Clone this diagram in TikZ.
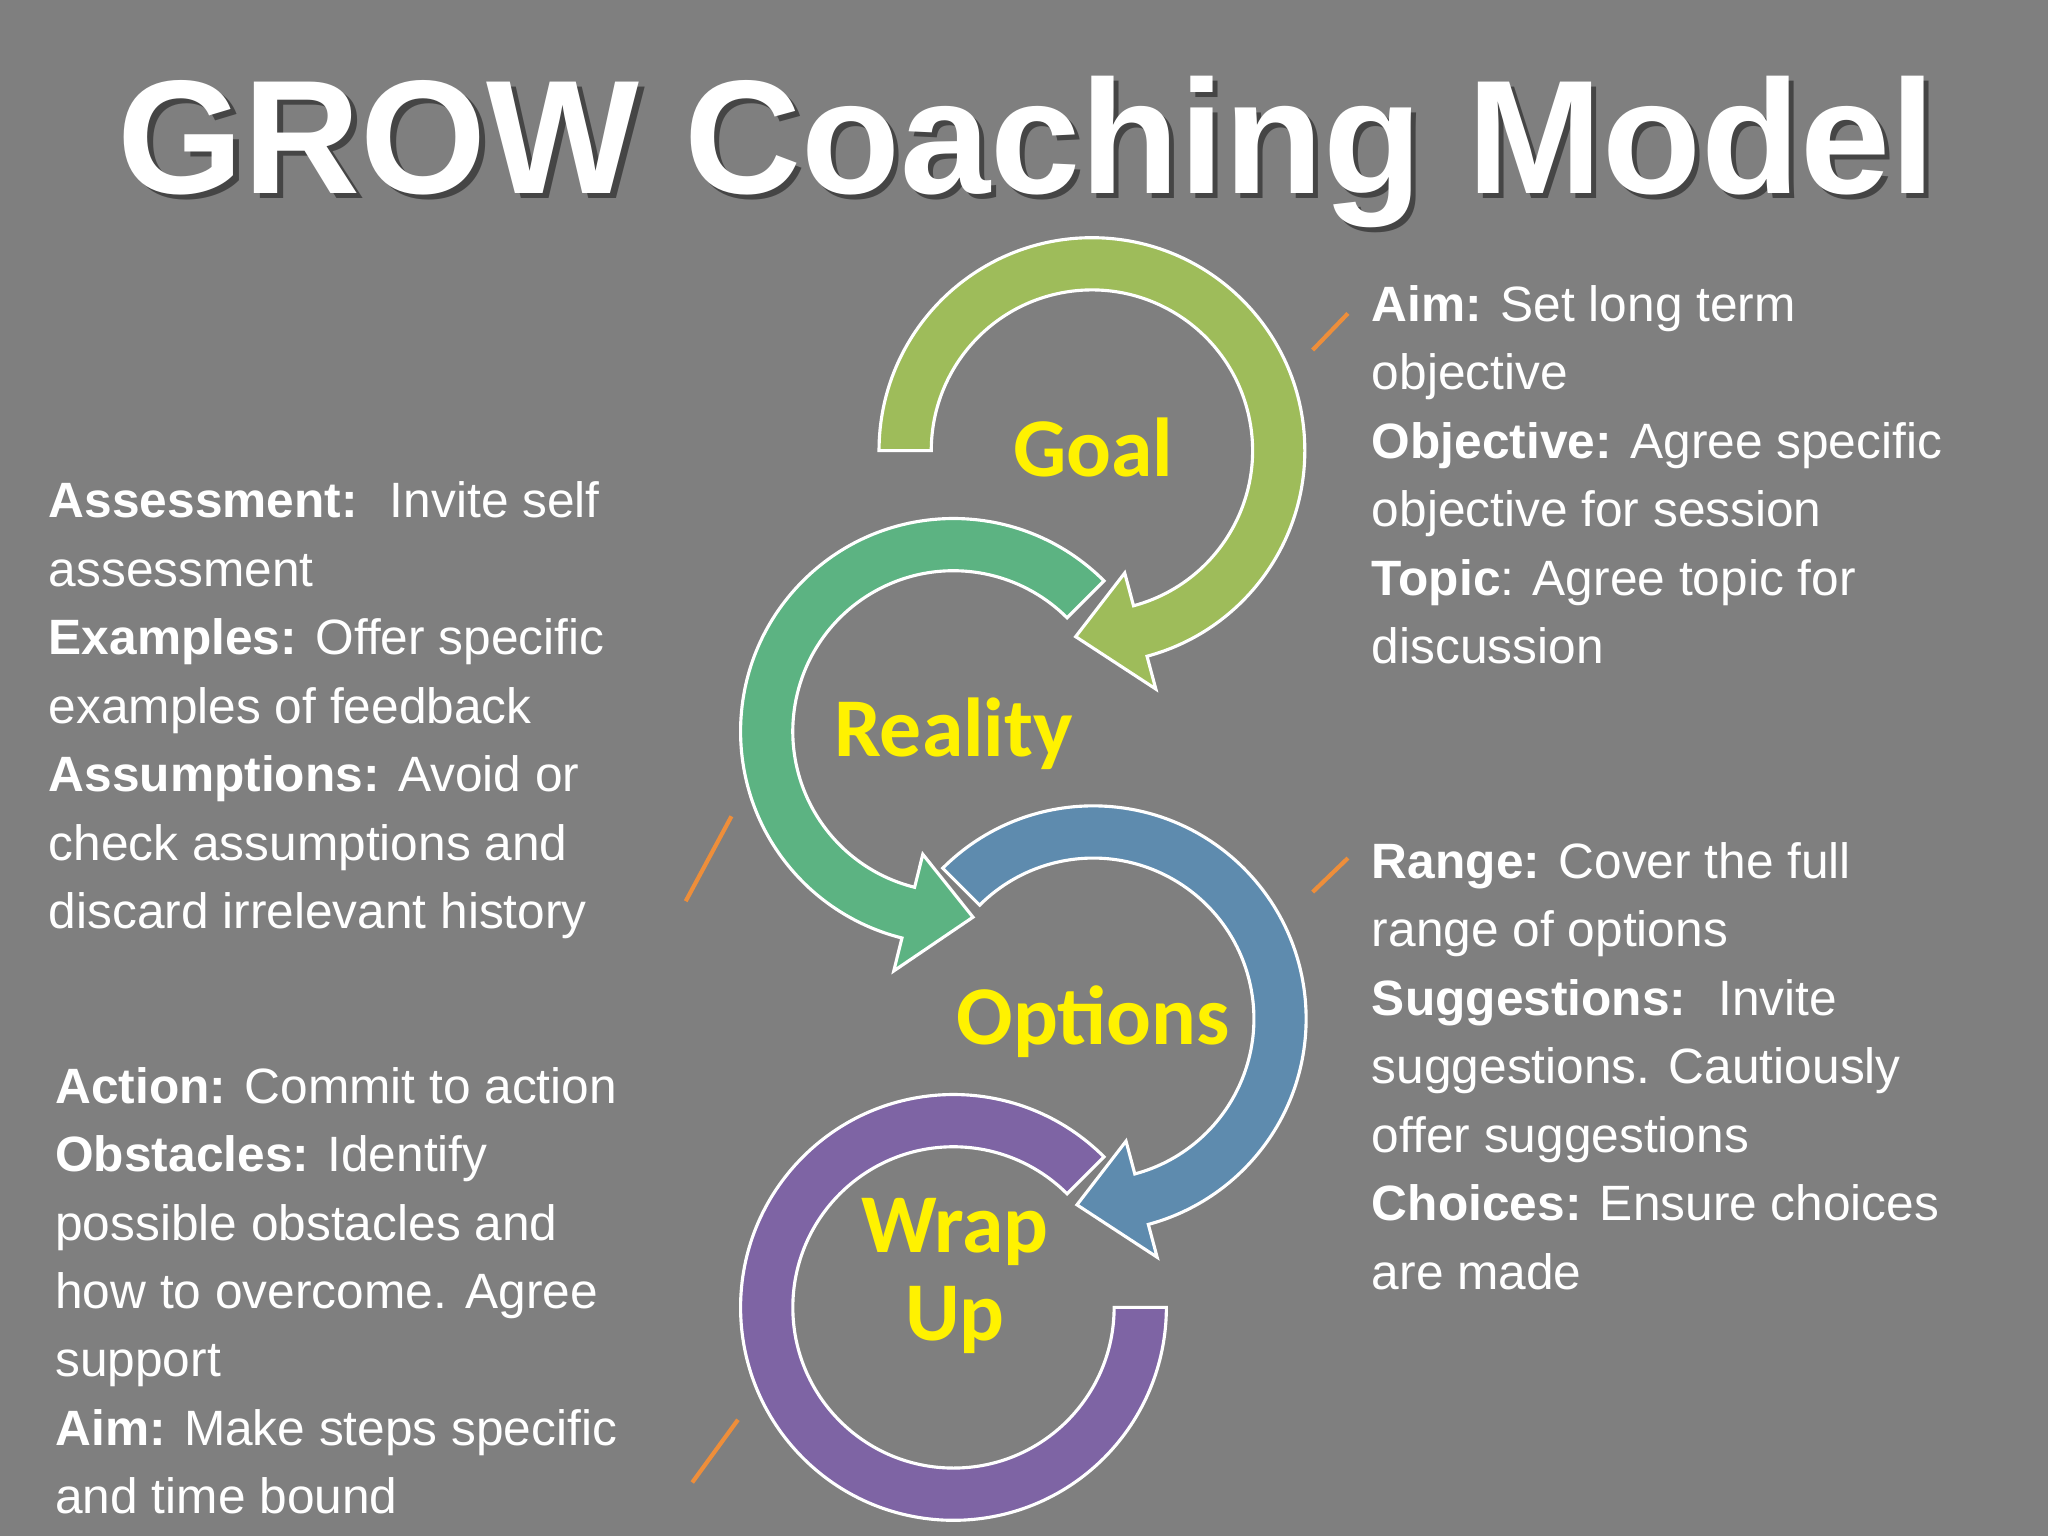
\documentclass[tikz,border=0pt]{standalone}
\usepackage{fontspec}
\setmainfont{Liberation Sans}
\newfontfamily\calib{Carlito}
\definecolor{bg}{HTML}{7F7F7F}
\definecolor{cgoal}{HTML}{9EBC5A}
\definecolor{creal}{HTML}{5CB382}
\definecolor{copt}{HTML}{5E8BAE}
\definecolor{cwrap}{HTML}{7E64A4}
\definecolor{tick}{HTML}{EE8E3A}
\newcommand{\grow}[6]{% cx cy start end tip color
\filldraw[band, fill=#6] ({#1+163*cos(#3)},{#2+163*sin(#3)}) arc[start angle=#3,end angle=#4,radius=163]
 -- ({#1+189*cos(#4)},{#2+189*sin(#4)}) -- ({#1+143*cos(#5)},{#2+143*sin(#5)})
 -- ({#1+97*cos(#4)},{#2+97*sin(#4)}) -- ({#1+123*cos(#4)},{#2+123*sin(#4)})
 arc[start angle=#4,end angle=#3,radius=123] -- cycle;}
\tikzset{band/.style={draw=white, line width=1.2pt, line join=miter},
 body/.style={font=\fontsize{19}{26.2}\selectfont, text=white, align=left, inner sep=0pt, anchor=base west},
 lab/.style={font=\calib\bfseries\fontsize{32}{32}\selectfont, text=yellow, inner sep=0pt, align=center},
 tk/.style={draw=tick, line width=1.6pt}}
\begin{document}
\begin{tikzpicture}[x=0.5pt,y=0.5pt]
\fill[bg] (0,0) rectangle (1568,1176);
\useasboundingbox (0,0) rectangle (1568,1176);
\node[font=\bfseries\fontsize{62}{62}\selectfont, text=black, opacity=0.45, inner sep=0pt, anchor=base] (tsh) at (790,1024) {GROW Coaching Model};
\node[font=\bfseries\fontsize{62}{62}\selectfont, text=white, inner sep=0pt, anchor=base] (title) at (786,1028) {GROW Coaching Model};
% Wrap Up (no head)
\filldraw[band, fill=cwrap] ({730+163*cos(45)},{175+163*sin(45)}) arc[start angle=45,end angle=360,radius=163]
 -- ({730+123},175) arc[start angle=360,end angle=45,radius=123] -- cycle;
\grow{837}{396}{135}{-75}{-95}{copt}
\grow{730}{616}{45}{256}{276}{creal}
\grow{836}{831}{180}{-75}{-95}{cgoal}
\node[lab] (goal) at (837,833) {Goal};
\node[lab] (reality) at (730,614) {Reality};
\node[lab] (options) at (837,394) {Options};
\node[lab, font=\calib\bfseries\fontsize{32}{33.5}\selectfont] (wrap) at (731,199) {Wrap\\Up};
\draw[tk] (1005,908) -- (1032,936);
\draw[tk] (525,486) -- (560,551);
\draw[tk] (1005,493) -- (1032,519);
\draw[tk] (530,41) -- (565,89);
\node[body] (t1) at (1050,668) {\textbf{Aim:} Set long term\\objective\\\textbf{Objective:} Agree specific\\objective for session\\\textbf{Topic}: Agree topic for\\discussion};
\node[body] (t2) at (37,465) {\textbf{Assessment:}~ Invite self\\assessment\\\textbf{Examples:} Offer specific\\examples of feedback\\\textbf{Assumptions:} Avoid or\\check assumptions and\\discard irrelevant history};
\node[body] (t3) at (1050,189) {\textbf{Range:} Cover the full\\range of options\\\textbf{Suggestions:}~ Invite\\suggestions. Cautiously\\offer suggestions\\\textbf{Choices:} Ensure choices\\are made};
\node[body] (t4) at (42,17) {\textbf{Action:} Commit to action\\\textbf{Obstacles:} Identify\\possible obstacles and\\how to overcome. Agree\\support\\\textbf{Aim:} Make steps specific\\and time bound};
\end{tikzpicture}
\end{document}
